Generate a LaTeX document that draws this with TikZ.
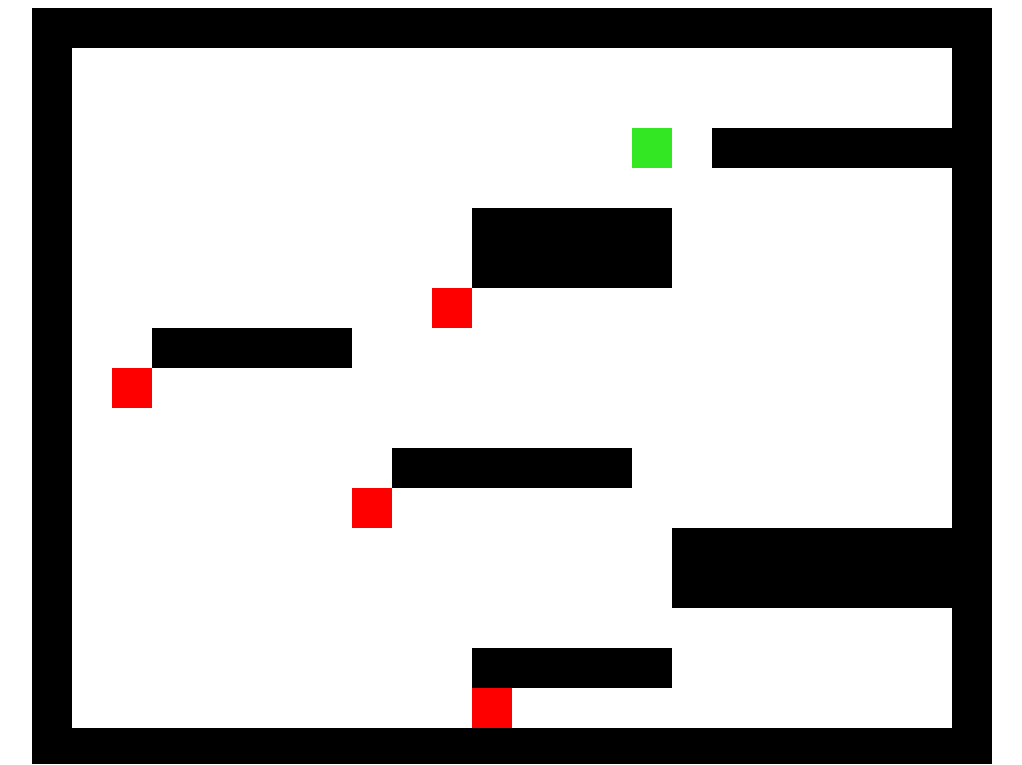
\documentclass[tikz,border=0pt]{standalone}
\definecolor{goal}{RGB}{51,232,34}
\definecolor{hazard}{RGB}{255,0,0}
\tikzset{wall/.style={fill=black},goalcell/.style={fill=goal},redcell/.style={fill=hazard}}
\begin{document}
\begin{tikzpicture}[x=1pt,y=-1pt]
\useasboundingbox (0,0) rectangle (1022,764);
\fill[white] (0,0) rectangle (1022,764);
% outer frame
\fill[wall] (32,8) rectangle (992,764);
\fill[white] (72,48) rectangle (952,728);
% walls
\fill[wall] (712,128) rectangle (952,168);
\fill[wall] (472,208) rectangle (672,288);
\fill[wall] (152,328) rectangle (352,368);
\fill[wall] (392,448) rectangle (632,488);
\fill[wall] (672,528) rectangle (952,608);
\fill[wall] (472,648) rectangle (672,688);
% goal
\fill[goalcell] (632,128) rectangle (672,168);
% red cells
\fill[redcell] (432,288) rectangle (472,328);
\fill[redcell] (112,368) rectangle (152,408);
\fill[redcell] (352,488) rectangle (392,528);
\fill[redcell] (472,688) rectangle (512,728);
\end{tikzpicture}
\end{document}
